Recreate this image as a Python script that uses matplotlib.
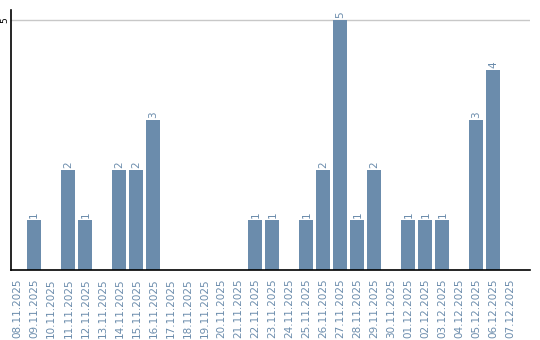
import matplotlib
matplotlib.use("Agg")
import matplotlib.pyplot as plt

# daily counts, 08.11.2025 .. 07.12.2025
days = ["08.11.2025", "09.11.2025", "10.11.2025", "11.11.2025", "12.11.2025",
        "13.11.2025", "14.11.2025", "15.11.2025", "16.11.2025", "17.11.2025",
        "18.11.2025", "19.11.2025", "20.11.2025", "21.11.2025", "22.11.2025",
        "23.11.2025", "24.11.2025", "25.11.2025", "26.11.2025", "27.11.2025",
        "28.11.2025", "29.11.2025", "30.11.2025", "01.12.2025", "02.12.2025",
        "03.12.2025", "04.12.2025", "05.12.2025", "06.12.2025", "07.12.2025"]
counts = [0, 1, 0, 2, 1, 0, 2, 2, 3, 0,
          0, 0, 0, 0, 1, 1, 0, 1, 2, 5,
          1, 2, 0, 1, 1, 1, 0, 3, 4, 0]

BAR_COLOR = "#6b8cac"
TEXT_COLOR = "#6b8cac"

fig = plt.figure(figsize=(5.4, 3.4), dpi=100)
ax = fig.add_axes([10.5 / 540, 70 / 340, 519.5 / 540, 260 / 340])

x = list(range(len(days)))
ax.bar(x, counts, width=0.82, color=BAR_COLOR, zorder=2)

for xi, c in zip(x, counts):
    if c > 0:
        ax.text(xi, c + 0.05, str(c), rotation=90, ha="center", va="bottom",
                fontsize=7.5, color=TEXT_COLOR)

ax.set_xlim(-0.4, 30.15)
ax.set_ylim(0, 5.2)
ax.set_xticks(x)
ax.set_xticklabels(days, rotation=90, fontsize=7.5, color=TEXT_COLOR)
ax.set_yticks([5])
ax.set_yticklabels(["5"], rotation=90, va="center", fontsize=6.5)
ax.tick_params(axis="y", length=0, pad=1)
ax.tick_params(axis="x", length=0, pad=6)
ax.yaxis.grid(True, color="#c8c8c8", linewidth=1, zorder=0)

for s in ["top", "right"]:
    ax.spines[s].set_visible(False)
for s in ["left", "bottom"]:
    ax.spines[s].set_color("black")
    ax.spines[s].set_linewidth(1.2)

fig.savefig("out.png", dpi=100)
